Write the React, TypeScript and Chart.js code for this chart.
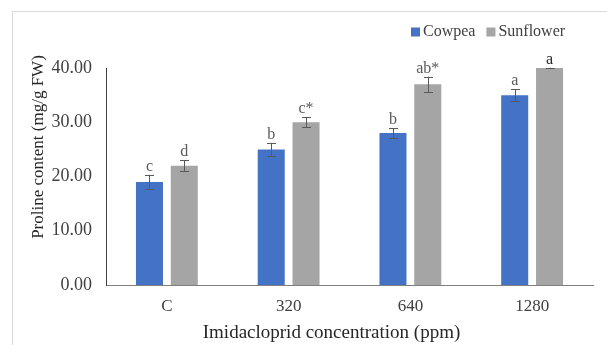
import React, { useEffect, useRef } from "react";
import { Chart, registerables } from "chart.js";

Chart.register(...registerables);

const categories = ["C", "320", "640", "1280"];
const cowpea = [19, 25, 28, 35];
const sunflower = [22, 30, 37, 40];
const cowpeaErr = [1.3, 1.2, 0.9, 1.1];
const sunflowerErr = [1.0, 0.9, 1.4, 0.05];
const cowpeaLetters = ["c", "b", "b", "a"];
const sunflowerLetters = ["d", "c*", "ab*", "a"];
const seriesNames = ["Cowpea", "Sunflower"];
const yMin = 0;
const yMax = 40;
const yStep = 10;
const yTitle = "Proline content (mg/g FW)";
const xTitle = "Imidacloprid concentration (ppm)";

const SERIF = "'Liberation Serif', 'Times New Roman', serif";

const errorBarsPlugin = {
  id: "errorBarsLetters",
  afterDatasetsDraw(chart: any) {
    const ctx = chart.ctx;
    const yScale = chart.scales.y;
    chart.data.datasets.forEach((ds: any, i: number) => {
      const meta = chart.getDatasetMeta(i);
      meta.data.forEach((el: any, j: number) => {
        const v = ds.data[j];
        const e = ds.errors[j];
        const x = Math.round(el.x) + 0.5;
        const yt = yScale.getPixelForValue(v + e);
        const yb = yScale.getPixelForValue(v - e);
        ctx.save();
        ctx.strokeStyle = "#595959";
        ctx.lineWidth = 1;
        ctx.beginPath();
        ctx.moveTo(x, yt);
        ctx.lineTo(x, yb);
        ctx.moveTo(x - 4.5, Math.round(yt) + 0.5);
        ctx.lineTo(x + 4.5, Math.round(yt) + 0.5);
        ctx.moveTo(x - 4.5, Math.round(yb) + 0.5);
        ctx.lineTo(x + 4.5, Math.round(yb) + 0.5);
        ctx.stroke();
        ctx.font = `16px ${SERIF}`;
        ctx.fillStyle = ds.letterColors[j];
        ctx.textAlign = "center";
        ctx.textBaseline = "alphabetic";
        ctx.fillText(ds.letters[j], el.x, yt - 4);
        ctx.restore();
      });
    });
  },
};

const legendTitlesPlugin = {
  id: "legendTitles",
  afterDraw(chart: any) {
    const ctx = chart.ctx;
    ctx.save();
    // legend
    ctx.font = `16px ${SERIF}`;
    ctx.textBaseline = "middle";
    ctx.textAlign = "left";
    let x = 411;
    const cy = 32;
    chart.data.datasets.forEach((ds: any) => {
      ctx.fillStyle = ds.backgroundColor;
      ctx.fillRect(x, cy - 4.5, 9, 9);
      x += 12;
      ctx.fillStyle = "#404040";
      ctx.fillText(ds.label, x, cy);
      x += ctx.measureText(ds.label).width + 11;
    });
    // x title
    ctx.font = `19px ${SERIF}`;
    ctx.fillStyle = "#262626";
    ctx.textAlign = "center";
    ctx.textBaseline = "middle";
    ctx.fillText(xTitle, 331.5, 333);
    // y title
    ctx.font = `17px ${SERIF}`;
    ctx.translate(39, 147);
    ctx.rotate(-Math.PI / 2);
    ctx.fillText(yTitle, 0, 0);
    ctx.restore();
  },
};

export default function App() {
  const canvasRef = useRef<HTMLCanvasElement | null>(null);

  useEffect(() => {
    const canvas = canvasRef.current;
    if (!canvas) return;
    const chart = new Chart(canvas, {
      type: "bar",
      data: {
        labels: categories,
        datasets: [
          {
            label: seriesNames[0],
            data: cowpea,
            backgroundColor: "#4472C4",
            errors: cowpeaErr,
            letters: cowpeaLetters,
            letterColors: ["#595959", "#595959", "#595959", "#595959"],
            categoryPercentage: 0.572,
            barPercentage: 0.776,
          } as any,
          {
            label: seriesNames[1],
            data: sunflower,
            backgroundColor: "#A5A5A5",
            errors: sunflowerErr,
            letters: sunflowerLetters,
            letterColors: ["#595959", "#595959", "#595959", "#262626"],
            categoryPercentage: 0.572,
            barPercentage: 0.776,
          } as any,
        ],
      },
      options: {
        animation: false,
        responsive: false,
        devicePixelRatio: 1,
        layout: { padding: { left: 0, right: 14, top: 68, bottom: 0 } },
        plugins: {
          legend: { display: false },
          tooltip: { enabled: false },
        },
        scales: {
          x: {
            grid: { display: false, drawTicks: false },
            border: { display: true, color: "#7f7f7f", width: 1 },
            ticks: {
              padding: 11,
              color: "#404040",
              font: { family: SERIF, size: 17 },
            },
            afterFit(scale: any) {
              scale.height = 60;
            },
          },
          y: {
            min: yMin,
            max: yMax,
            grid: { display: false, drawTicks: false },
            border: { display: true, color: "#404040", width: 1 },
            ticks: {
              stepSize: yStep,
              padding: 14,
              color: "#404040",
              font: { family: SERIF, size: 18 },
              callback: (v: any) => Number(v).toFixed(2),
            },
            afterFit(scale: any) {
              scale.width = 106;
            },
          },
        },
      },
      plugins: [errorBarsPlugin, legendTitlesPlugin],
    });
    return () => chart.destroy();
  }, []);

  return (
    <div
      style={{
        position: "fixed",
        left: 0,
        top: 0,
        width: 607,
        height: 345,
        background: "#ffffff",
        overflow: "hidden",
      }}
    >
      <div
        style={{
          position: "absolute",
          left: 12,
          top: 11,
          width: 640,
          height: 400,
          border: "1px solid #d9d9d9",
        }}
      />
      <canvas
        ref={canvasRef}
        width={607}
        height={345}
        style={{ position: "absolute", left: 0, top: 0, width: 607, height: 345 }}
      />
    </div>
  );
}
